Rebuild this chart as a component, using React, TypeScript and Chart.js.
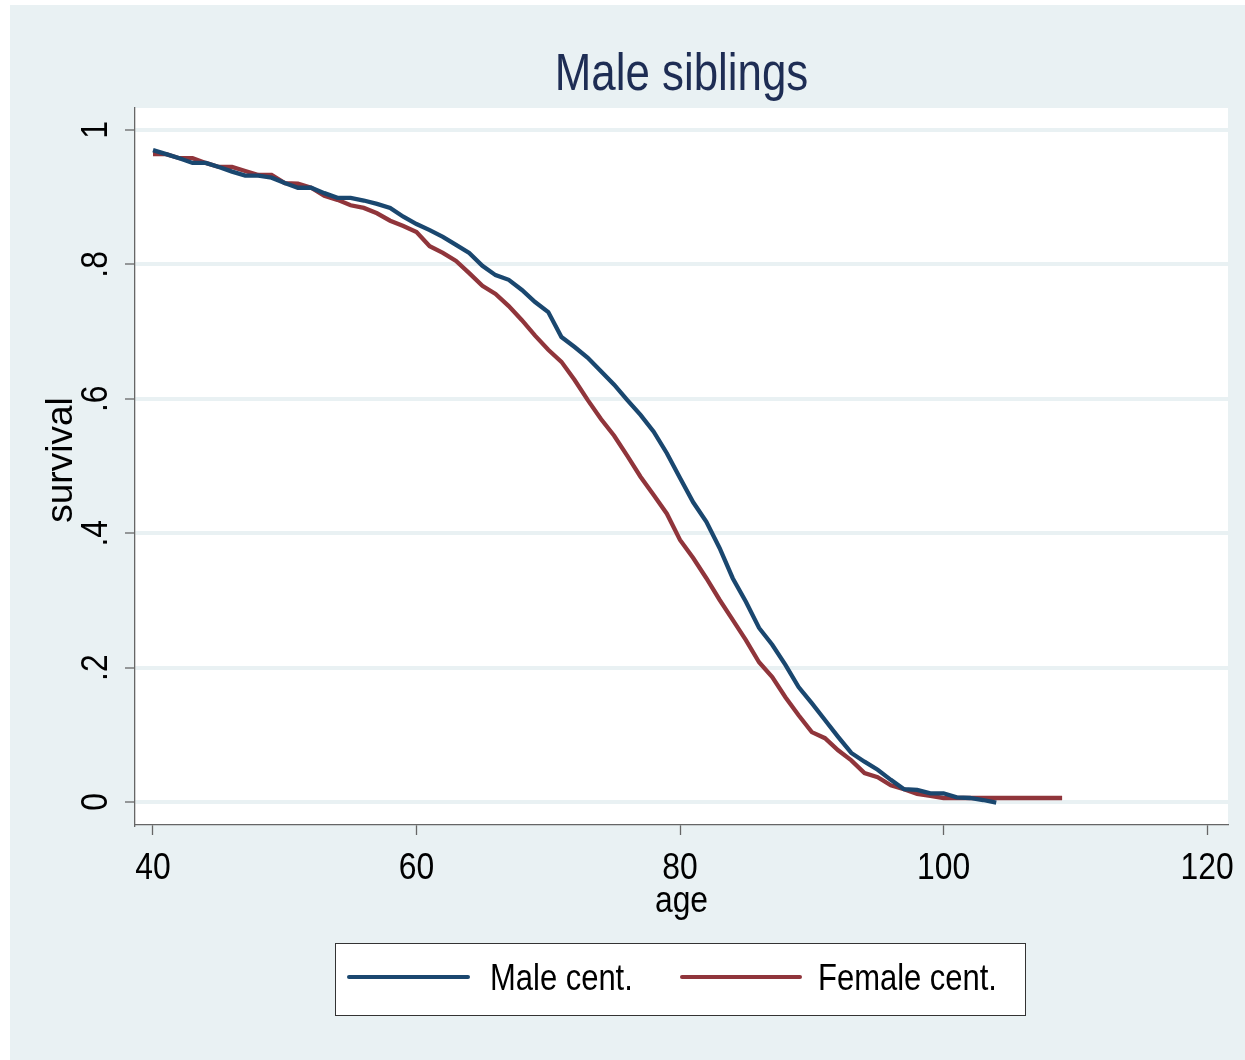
import React, { useEffect, useRef } from "react";
import { Chart, registerables } from "chart.js";

Chart.register(...registerables);

// ---- data ----
const maleAges = [40, 41, 42, 43, 44, 45, 46, 47, 48, 49, 50, 51, 52, 53, 54, 55, 56, 57, 58, 59,
  60, 61, 62, 63, 64, 65, 66, 67, 68, 69, 70, 71, 72, 73, 74, 75, 76, 77, 78, 79,
  80, 81, 82, 83, 84, 85, 86, 87, 88, 89, 90, 91, 92, 93, 94, 95, 96, 97, 98, 99,
  100, 101, 102, 103, 104];
const maleSurvival = [0.970, 0.964, 0.958, 0.951, 0.951, 0.945, 0.938, 0.932, 0.932, 0.929,
  0.921, 0.914, 0.914, 0.906, 0.899, 0.899, 0.895, 0.890, 0.884, 0.871,
  0.860, 0.851, 0.841, 0.829, 0.817, 0.798, 0.784, 0.777, 0.762, 0.744,
  0.729, 0.692, 0.677, 0.661, 0.641, 0.621, 0.598, 0.576, 0.551, 0.519,
  0.482, 0.446, 0.417, 0.378, 0.333, 0.298, 0.259, 0.234, 0.204, 0.171,
  0.147, 0.122, 0.097, 0.073, 0.060, 0.048, 0.033, 0.019, 0.018, 0.013,
  0.013, 0.007, 0.006, 0.003, -0.001];

const femaleAges = [40, 41, 42, 43, 44, 45, 46, 47, 48, 49, 50, 51, 52, 53, 54, 55, 56, 57, 58, 59,
  60, 61, 62, 63, 64, 65, 66, 67, 68, 69, 70, 71, 72, 73, 74, 75, 76, 77, 78, 79,
  80, 81, 82, 83, 84, 85, 86, 87, 88, 89, 90, 91, 92, 93, 94, 95, 96, 97, 98, 99,
  100, 101, 102, 103, 104, 105, 106, 107, 108, 109];
const femaleSurvival = [0.964, 0.964, 0.958, 0.958, 0.951, 0.945, 0.945, 0.939, 0.933, 0.933,
  0.921, 0.920, 0.914, 0.902, 0.896, 0.888, 0.884, 0.876, 0.865, 0.857,
  0.848, 0.827, 0.817, 0.805, 0.787, 0.768, 0.756, 0.738, 0.717, 0.694,
  0.673, 0.655, 0.628, 0.598, 0.570, 0.545, 0.515, 0.484, 0.457, 0.429,
  0.390, 0.363, 0.333, 0.301, 0.271, 0.241, 0.208, 0.186, 0.156, 0.129,
  0.104, 0.095, 0.077, 0.062, 0.043, 0.037, 0.025, 0.019, 0.012, 0.009,
  0.006, 0.006, 0.006, 0.006, 0.006, 0.006, 0.006, 0.006, 0.006, 0.006];

const xTicks = [40, 60, 80, 100, 120];
const yTicks = [0, 0.2, 0.4, 0.6, 0.8, 1];
const yTickLabels = ["0", ".2", ".4", ".6", ".8", "1"];
const seriesNames = ["Male cent.", "Female cent."];
const titleText = "Male siblings";
const xTitle = "age";
const yTitle = "survival";

const COLORS = ["#1A476F", "#90353B"];
const BG = "#E9F1F3";
const AXIS = "#666666";
const FONT = '"Liberation Sans", Arial, sans-serif';

function drawText(
  ctx: CanvasRenderingContext2D,
  text: string,
  x: number,
  y: number,
  size: number,
  color: string,
  align: CanvasTextAlign,
  rot = 0,
  sx = 0.86
) {
  ctx.save();
  ctx.translate(x, y);
  if (rot) ctx.rotate(rot);
  ctx.scale(sx, 1);
  ctx.font = `${size}px ${FONT}`;
  ctx.fillStyle = color;
  ctx.textAlign = align;
  ctx.textBaseline = "alphabetic";
  ctx.fillText(text, 0, 0);
  ctx.restore();
}

const decorPlugin = {
  id: "decor",
  beforeDraw(chart: any) {
    const { ctx, chartArea } = chart;
    ctx.save();
    ctx.fillStyle = "#ffffff";
    ctx.fillRect(0, 0, chart.width, chart.height);
    ctx.fillStyle = BG;
    ctx.fillRect(10, 5, chart.width - 10, chart.height - 5);
    ctx.fillStyle = "#ffffff";
    ctx.fillRect(chartArea.left, chartArea.top, chartArea.right - chartArea.left, chartArea.bottom - chartArea.top);
    ctx.restore();
  },
  afterDraw(chart: any) {
    const { ctx, chartArea } = chart;
    const xs = chart.scales.x;
    const ys = chart.scales.y;
    const cx = (chartArea.left + chartArea.right) / 2;
    // title
    drawText(ctx, titleText, cx, 90, 51, "#1E2D54", "center");
    // x tick labels
    xTicks.forEach((v) => {
      drawText(ctx, String(v), xs.getPixelForValue(v), 879, 37, "#000000", "center");
    });
    // x title
    drawText(ctx, xTitle, cx, 912, 37, "#000000", "center");
    // y tick labels
    yTicks.forEach((v, i) => {
      drawText(ctx, yTickLabels[i], 107, ys.getPixelForValue(v), 37, "#000000", "center", -Math.PI / 2);
    });
    // y title
    drawText(ctx, yTitle, 72, 460, 37, "#000000", "center", -Math.PI / 2, 1);
    // legend
    ctx.save();
    ctx.fillStyle = "#ffffff";
    ctx.fillRect(335, 943, 690, 72);
    ctx.strokeStyle = "#333333";
    ctx.lineWidth = 1;
    ctx.strokeRect(335.5, 943.5, 690, 72);
    const items = [
      { x0: 349, x1: 468, tx: 490 },
      { x0: 682, x1: 800, tx: 818 },
    ];
    items.forEach((it, i) => {
      ctx.beginPath();
      ctx.strokeStyle = COLORS[i];
      ctx.lineWidth = 4;
      ctx.lineCap = "round";
      ctx.moveTo(it.x0, 977);
      ctx.lineTo(it.x1, 977);
      ctx.stroke();
      drawText(ctx, seriesNames[i], it.tx, 990, 36, "#000000", "left");
    });
    ctx.restore();
  },
};

export default function App() {
  const ref = useRef<HTMLCanvasElement>(null);
  useEffect(() => {
    if (!ref.current) return;
    const chart = new Chart(ref.current, {
      type: "line",
      data: {
        datasets: [
          {
            label: seriesNames[0],
            data: maleAges.map((a, i) => ({ x: a, y: maleSurvival[i] })),
            borderColor: COLORS[0],
            backgroundColor: COLORS[0],
            borderWidth: 4.3,
            pointRadius: 0,
            tension: 0,
            fill: false,
          },
          {
            label: seriesNames[1],
            data: femaleAges.map((a, i) => ({ x: a, y: femaleSurvival[i] })),
            borderColor: COLORS[1],
            backgroundColor: COLORS[1],
            borderWidth: 4.3,
            pointRadius: 0,
            tension: 0,
            fill: false,
          },
        ],
      },
      options: {
        responsive: false,
        animation: false,
        layout: { padding: { left: 125, top: 108, right: 17, bottom: 225 } },
        plugins: { legend: { display: false }, title: { display: false }, tooltip: { enabled: false } },
        scales: {
          x: {
            type: "linear",
            min: 38.634,
            max: 121.59,
            afterBuildTicks: (ax: any) => {
              ax.ticks = xTicks.map((v) => ({ value: v }));
            },
            ticks: { display: false },
            grid: { drawOnChartArea: false, tickLength: 10, tickColor: AXIS, tickWidth: 1.3 },
            border: { color: AXIS, width: 1.3 },
          },
          y: {
            type: "linear",
            min: -0.0342,
            max: 1.0327,
            afterBuildTicks: (ax: any) => {
              ax.ticks = yTicks.map((v) => ({ value: v }));
            },
            ticks: { display: false },
            grid: { color: BG, lineWidth: 4, tickLength: 10, tickColor: AXIS, tickWidth: 1.3 },
            border: { color: AXIS, width: 1.3 },
          },
        },
      },
      plugins: [decorPlugin],
    });
    return () => chart.destroy();
  }, []);
  return (
    <div style={{ position: "absolute", left: 0, top: 0, width: 1245, height: 1060 }}>
      <canvas ref={ref} width={1245} height={1060} style={{ width: 1245, height: 1060 }} />
    </div>
  );
}
